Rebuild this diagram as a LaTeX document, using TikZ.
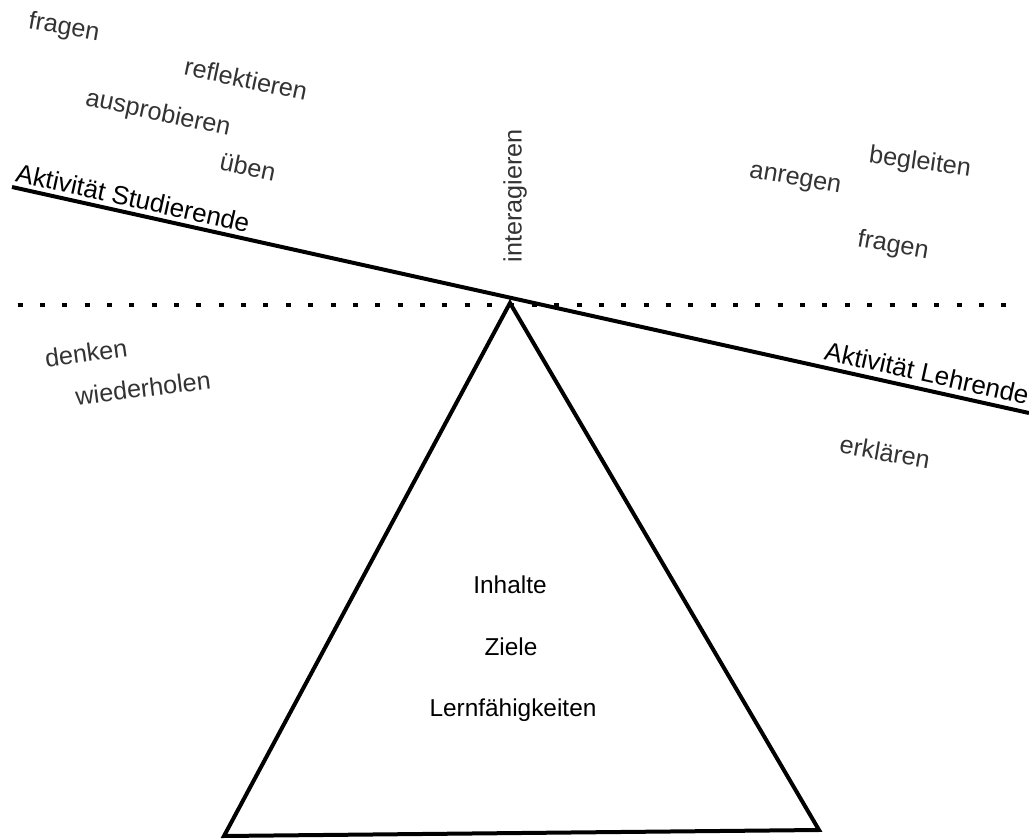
\documentclass[tikz,border=0pt]{standalone}
\usepackage{fontspec}
\setmainfont{Liberation Sans}
\begin{document}
\begin{tikzpicture}[x=0.5pt, y=-0.5pt,
    word/.style = {text=black!80, font=\fontsize{12.6}{14}\selectfont, inner sep=0pt},
    side/.style = {text=black, font=\fontsize{13}{15}\selectfont, inner sep=0pt, rotate=-12.5},
    topic/.style = {text=black, font=\fontsize{12.2}{14}\selectfont, inner sep=0pt}]
    \useasboundingbox (0,0) rectangle (1029,839);

    % Waage
    \coordinate (bl) at (12,187);
    \coordinate (br) at (1029,413);
    \coordinate (top) at (510,303);
    \coordinate (left) at (224,836);
    \coordinate (right) at (819,830);
    \draw[line width=2.4pt, dash pattern=on 2.5pt off 8.68pt] (17.5,305) -- (1006.5,305);
    \draw[line width=2pt] (bl) -- (br);
    \draw[line width=2pt, line join=miter] (top) -- (left) -- (right) -- cycle;

    % Studierende
    \node[side] (stud) at (133,198) {Aktivität Studierende};
    \node[word, rotate=-10] (fragenL) at (64,28) {fragen};
    \node[word, rotate=-12] (refl) at (246,79) {reflektieren};
    \node[word, rotate=-12] (ausp) at (158,114) {ausprobieren};
    \node[word, rotate=-12] (ueben) at (248,167) {üben};
    \node[word, rotate=8] (denken) at (86,353) {denken};
    \node[word, rotate=7] (wieder) at (143,388) {wiederholen};

    % Mitte
    \node[word, rotate=90] (inter) at (515,196) {interagieren};

    % Lehrende
    \node[side] (lehr) at (927,373) {Aktivität Lehrende};
    \node[word, rotate=-10] (anregen) at (795,181) {anregen};
    \node[word, rotate=-8] (begl) at (920,163) {begleiten};
    \node[word, rotate=-10] (fragenR) at (893,246) {fragen};
    \node[word, rotate=-10] (erkl) at (885,452) {erklären};

    % Dreieck
    \node[topic] (inhalte) at (510,585) {Inhalte};
    \node[topic] (ziele) at (511,647) {Ziele};
    \node[topic] (lern) at (513,710) {Lernfähigkeiten};
\end{tikzpicture}
\end{document}
